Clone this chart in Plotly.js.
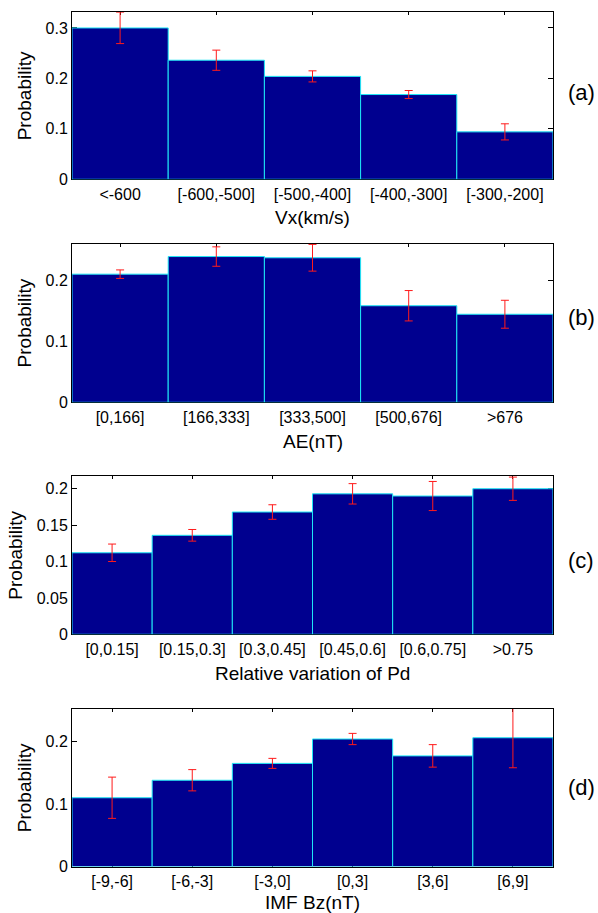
<!DOCTYPE html>
<html>
<head>
<meta charset="utf-8">
<script src="https://cdn.plot.ly/plotly-3.0.1.min.js"></script>
<style>
  html, body { margin: 0; padding: 0; background: #ffffff; }
  #chart { width: 598px; height: 913px; }
</style>
</head>
<body>
<div id="chart"></div>
<script>
// (a) solar wind speed Vx
const catsVx = ['<-600', '[-600,-500]', '[-500,-400]', '[-400,-300]', '[-300,-200]'];
const probVx = [0.300, 0.236, 0.204, 0.168, 0.094];
const errVx  = [0.031, 0.020, 0.011, 0.008, 0.016];

// (b) AE index
const catsAE = ['[0,166]', '[166,333]', '[333,500]', '[500,676]', '>676'];
const probAE = [0.211, 0.240, 0.238, 0.159, 0.145];
const errAE  = [0.007, 0.016, 0.022, 0.025, 0.023];

// (c) relative variation of dynamic pressure
const catsPd = ['[0,0.15]', '[0.15,0.3]', '[0.3,0.45]', '[0.45,0.6]', '[0.6,0.75]', '>0.75'];
const probPd = [0.112, 0.136, 0.168, 0.193, 0.190, 0.200];
const errPd  = [0.012, 0.008, 0.010, 0.014, 0.020, 0.016];

// (d) IMF Bz
const catsBz = ['[-9,-6]', '[-6,-3]', '[-3,0]', '[0,3]', '[3,6]', '[6,9]'];
const probBz = [0.110, 0.138, 0.165, 0.204, 0.177, 0.206];
const errBz  = [0.033, 0.017, 0.008, 0.009, 0.018, 0.048];

const W = 598, H = 913;
const L = 72, R = 553;
const FONT = 'Liberation Sans, Arial, Helvetica, sans-serif';

const panels = [
  { cats: catsVx, prob: probVx, err: errVx, title: 'Vx(km/s)', tag: '(a)',
    top: 12.3, bottom: 179.3, ymax: 0.331, dtick: 0.1, titleY: 217, tagY: 92, ylabX: 24.5 },
  { cats: catsAE, prob: probAE, err: errAE, title: 'AE(nT)', tag: '(b)',
    top: 243.5, bottom: 402.3, ymax: 0.2615, dtick: 0.1, titleY: 441.5, tagY: 317, ylabX: 24.5 },
  { cats: catsPd, prob: probPd, err: errPd, title: 'Relative variation of Pd', tag: '(c)',
    top: 476, bottom: 634.3, ymax: 0.2175, dtick: 0.05, titleY: 673, tagY: 560, ylabX: 15.5 },
  { cats: catsBz, prob: probBz, err: errBz, title: 'IMF Bz(nT)', tag: '(d)',
    top: 709, bottom: 866.5, ymax: 0.252, dtick: 0.1, titleY: 902, tagY: 787, ylabX: 24.5 }
];

const py = p => 1 - p / H;
const px = p => (p - L) / (R - L);

const data = [];
const layout = {
  width: W, height: H,
  margin: { l: L, r: W - R, t: 0, b: 0 },
  paper_bgcolor: '#ffffff',
  plot_bgcolor: '#ffffff',
  showlegend: false,
  font: { family: FONT, size: 16, color: '#000000' },
  annotations: []
};

panels.forEach((p, i) => {
  const n = i === 0 ? '' : String(i + 1);
  data.push({
    type: 'bar',
    x: p.cats,
    y: p.prob,
    width: 1,
    xaxis: 'x' + n,
    yaxis: 'y' + n,
    marker: { color: '#00008f', line: { color: '#1ee6f5', width: 1 } },
    error_y: { type: 'data', array: p.err, visible: true, color: '#ff1a1a', thickness: 1, width: 4 },
    hoverinfo: 'none'
  });

  layout['xaxis' + n] = {
    anchor: 'y' + n,
    domain: [0, 1],
    type: 'category',
    range: [-0.5, p.cats.length - 0.5],
    showline: true, linecolor: '#000000', linewidth: 1,
    mirror: 'ticks',
    ticks: 'inside', ticklen: 3, tickcolor: '#000000',
    tickfont: { family: FONT, size: 16, color: '#000000' },
    showgrid: false, zeroline: false,
    layer: 'below traces',
    fixedrange: true
  };
  layout['yaxis' + n] = {
    anchor: 'x' + n,
    domain: [py(p.bottom), py(p.top)],
    range: [0, p.ymax],
    dtick: p.dtick, tick0: 0,
    showline: true, linecolor: '#000000', linewidth: 1,
    mirror: 'ticks',
    ticks: 'inside', ticklen: 5, tickcolor: '#000000',
    tickfont: { family: FONT, size: 16, color: '#000000' },
    showgrid: false, zeroline: false,
    layer: 'below traces',
    fixedrange: true
  };

  layout.annotations.push({
    xref: 'paper', yref: 'paper',
    x: 0.5, y: py(p.titleY),
    xanchor: 'center', yanchor: 'middle',
    text: p.title, showarrow: false,
    font: { family: FONT, size: 19, color: '#000000' }
  });
  layout.annotations.push({
    xref: 'paper', yref: 'paper',
    x: px(p.ylabX), y: py((p.top + p.bottom) / 2),
    xanchor: 'center', yanchor: 'middle',
    text: 'Probability', textangle: -90, showarrow: false,
    font: { family: FONT, size: 19, color: '#000000' }
  });
  layout.annotations.push({
    xref: 'paper', yref: 'paper',
    x: px(581), y: py(p.tagY),
    xanchor: 'center', yanchor: 'middle',
    text: p.tag, showarrow: false,
    font: { family: FONT, size: 22, color: '#000000' }
  });
});

Plotly.newPlot('chart', data, layout, { staticPlot: true, displayModeBar: false });
</script>
</body>
</html>
